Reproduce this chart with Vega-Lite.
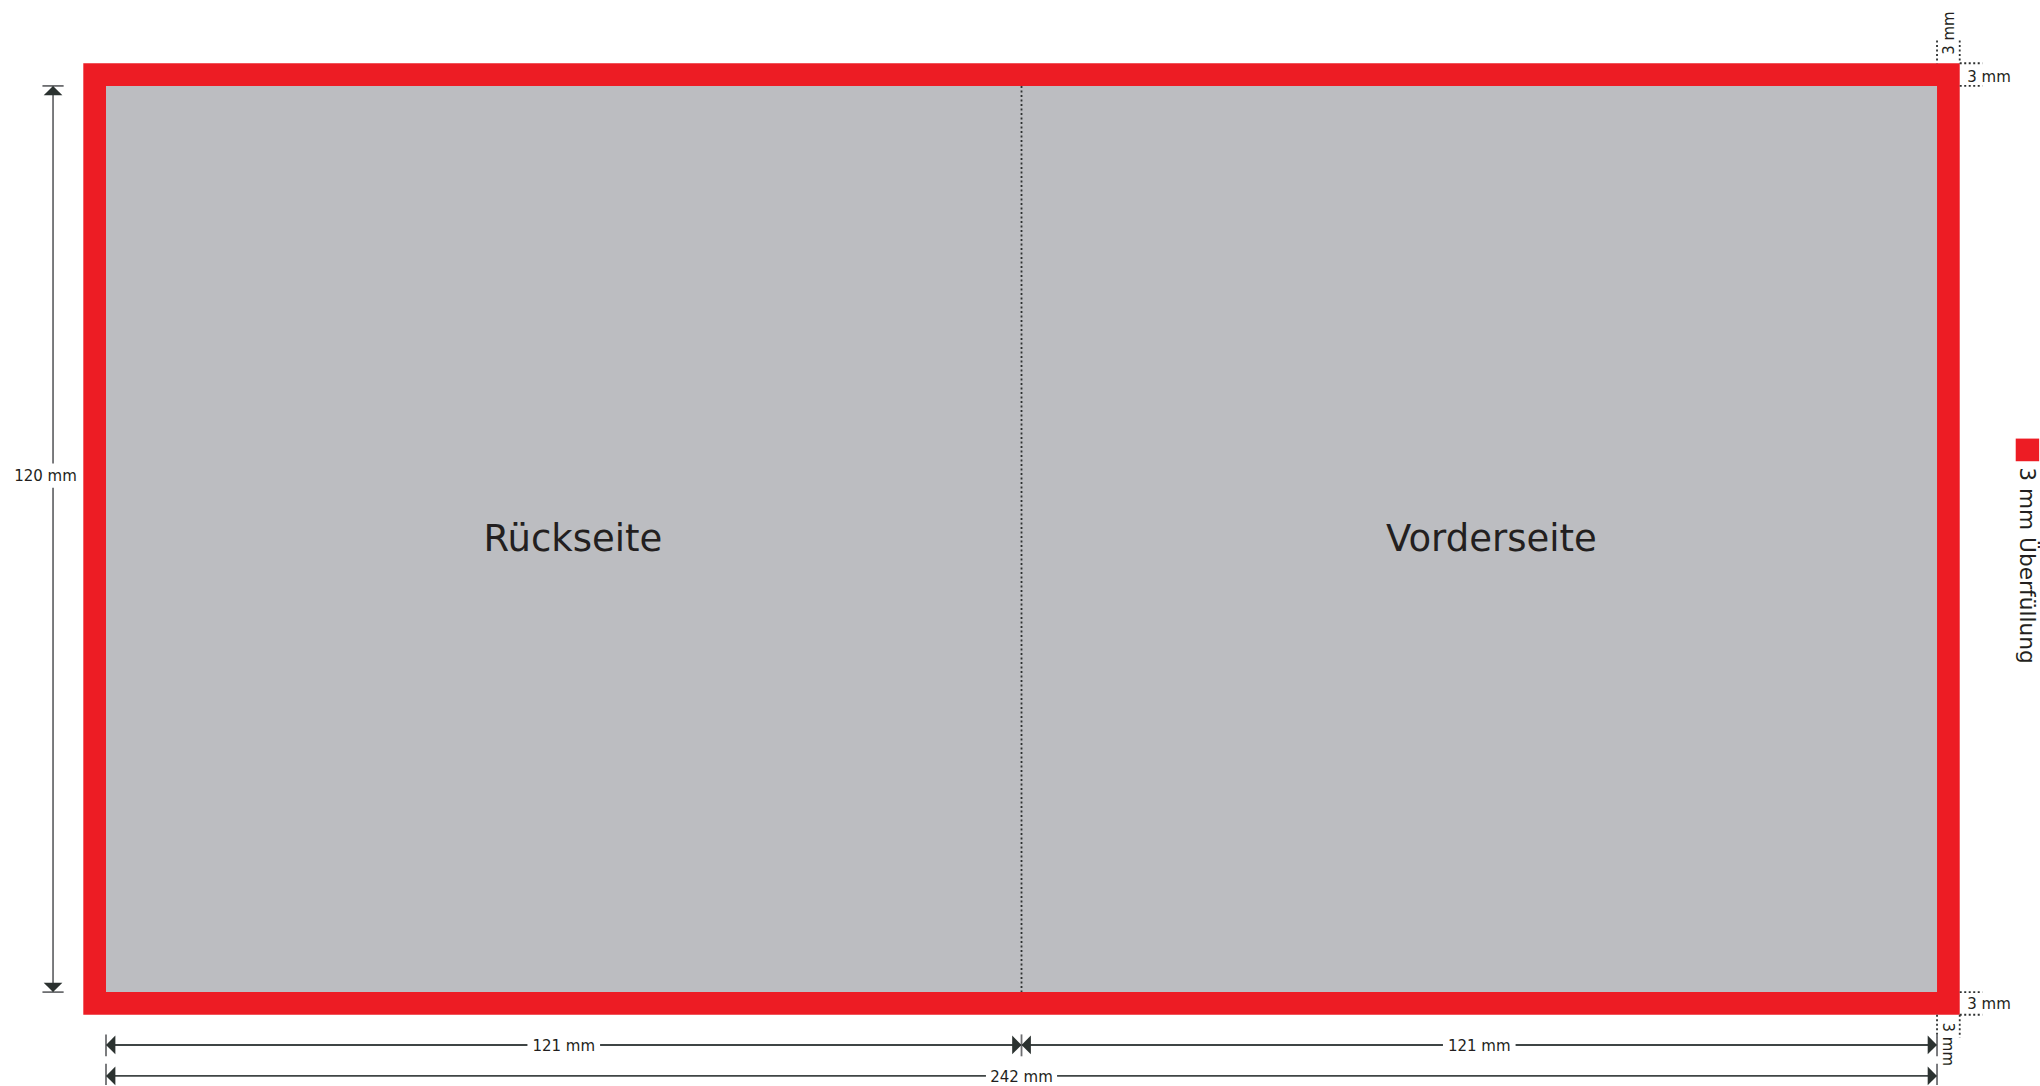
{
  "$schema": "https://vega.github.io/schema/vega-lite/v6.json",
  "autosize": {"type": "fit", "contains": "padding"},
  "width": 2040,
  "height": 1086,
  "padding": 0,
  "background": "white",
  "config": {"view": {"stroke": null}, "font": "DejaVu Sans"},
  "resolve": {"scale": {"color": "independent", "shape": "independent"}},
  "datasets": {
    "rects": [
      {"part": "bleed", "x": -3, "x2": 245, "y": -3, "y2": 123},
      {"part": "trim", "x": 0, "x2": 242, "y": 0, "y2": 120},
      {"part": "legend", "x": 252.4, "x2": 255.5, "y": 46.7, "y2": 49.7}
    ],
    "lines": [
      {"kind": "v", "x": -7, "x2": -7, "y": 0, "y2": 50.0},
      {"kind": "v", "x": -7, "x2": -7, "y": 53.2, "y2": 120},
      {"kind": "bar", "x": -8.4, "x2": -5.6, "y": 0, "y2": 0},
      {"kind": "bar", "x": -8.4, "x2": -5.6, "y": 120, "y2": 120},
      {"kind": "h", "x": 0, "x2": 55.7, "y": 127, "y2": 127},
      {"kind": "h", "x": 65.3, "x2": 121, "y": 127, "y2": 127},
      {"kind": "h", "x": 121, "x2": 176.7, "y": 127, "y2": 127},
      {"kind": "h", "x": 186.3, "x2": 242, "y": 127, "y2": 127},
      {"kind": "bar", "x": 0, "x2": 0, "y": 125.6, "y2": 128.5},
      {"kind": "bar", "x": 121, "x2": 121, "y": 125.6, "y2": 128.5},
      {"kind": "bar", "x": 242, "x2": 242, "y": 125.6, "y2": 128.5},
      {"kind": "h", "x": 0, "x2": 116.3, "y": 131.1, "y2": 131.1},
      {"kind": "h", "x": 125.7, "x2": 242, "y": 131.1, "y2": 131.1},
      {"kind": "bar", "x": 0, "x2": 0, "y": 129.5, "y2": 132.3},
      {"kind": "bar", "x": 242, "x2": 242, "y": 129.5, "y2": 132.3}
    ],
    "dotted": [
      {"kind": "fold", "x": 121, "x2": 121, "y": 0, "y2": 120},
      {"kind": "guide", "x": 242, "x2": 242, "y": -6, "y2": -3},
      {"kind": "guide", "x": 245, "x2": 245, "y": -6, "y2": -3},
      {"kind": "guide", "x": 245, "x2": 248, "y": -3, "y2": -3},
      {"kind": "guide", "x": 245, "x2": 248, "y": 0, "y2": 0},
      {"kind": "guide", "x": 245, "x2": 248, "y": 120, "y2": 120},
      {"kind": "guide", "x": 245, "x2": 248, "y": 123, "y2": 123},
      {"kind": "guide", "x": 242, "x2": 242, "y": 123, "y2": 126},
      {"kind": "guide", "x": 245, "x2": 245, "y": 123, "y2": 126}
    ],
    "arrows": [
      {"dir": "up", "x": -7, "y": 0},
      {"dir": "down", "x": -7, "y": 120},
      {"dir": "left", "x": 0, "y": 127},
      {"dir": "right", "x": 121, "y": 127},
      {"dir": "left", "x": 121, "y": 127},
      {"dir": "right", "x": 242, "y": 127},
      {"dir": "left", "x": 0, "y": 131.1},
      {"dir": "right", "x": 242, "y": 131.1}
    ],
    "texts": [
      {"role": "main", "label": "Rückseite", "x": 61.7, "y": 61.6},
      {"role": "main", "label": "Vorderseite", "x": 183.1, "y": 61.6},
      {"role": "dim", "label": "120 mm", "x": -8, "y": 51.7},
      {"role": "dim", "label": "121 mm", "x": 60.5, "y": 127.1},
      {"role": "dim", "label": "121 mm", "x": 181.5, "y": 127.1},
      {"role": "dim", "label": "242 mm", "x": 121, "y": 131.2},
      {"role": "bleedh", "label": "3 mm", "x": 246, "y": -1.2},
      {"role": "bleedh", "label": "3 mm", "x": 246, "y": 121.6},
      {"role": "up", "label": "3 mm", "x": 243.6, "y": -7.0},
      {"role": "down", "label": "3 mm", "x": 243.4, "y": 126.9},
      {"role": "legend", "label": "3 mm Überfüllung", "x": 253.9, "y": 50.5}
    ]
  },
  "encoding": {
    "x": {"field": "x", "type": "quantitative", "scale": {"domain": [-14.01, 255.61], "nice": false, "zero": false}, "axis": null},
    "y": {"field": "y", "type": "quantitative", "scale": {"domain": [-11.378, 132.3], "nice": false, "zero": false, "reverse": true}, "axis": null}
  },
  "layer": [
    {
      "data": {"name": "rects"},
      "mark": {"type": "rect", "strokeWidth": 0},
      "encoding": {
        "x2": {"field": "x2"},
        "y2": {"field": "y2"},
        "color": {"field": "part", "type": "nominal", "scale": {"domain": ["bleed", "trim", "legend"], "range": ["#ED1C24", "#BCBDC1", "#ED1C24"]}, "legend": null}
      }
    },
    {
      "data": {"name": "dotted"},
      "mark": {"type": "rule", "strokeDash": [2, 2.5], "strokeWidth": 1.8, "color": "#2E3131"},
      "encoding": {
        "x2": {"field": "x2"},
        "y2": {"field": "y2"}
      }
    },
    {
      "data": {"name": "lines"},
      "mark": {"type": "rule", "strokeWidth": 1.8},
      "encoding": {
        "x2": {"field": "x2"},
        "y2": {"field": "y2"},
        "color": {"field": "kind", "type": "nominal", "scale": {"domain": ["v", "h", "bar"], "range": ["#6D6E71", "#3F4545", "#6D6E71"]}, "legend": null}
      }
    },
    {
      "data": {"name": "arrows"},
      "mark": {"type": "point", "filled": true, "opacity": 1, "size": 350, "color": "#2B3230", "strokeWidth": 0},
      "encoding": {
        "shape": {"field": "dir", "type": "nominal", "scale": {"domain": ["up", "down", "left", "right"], "range": ["M0,0L-1,1L1,1Z", "M0,0L-1,-1L1,-1Z", "M0,0L1,-1L1,1Z", "M0,0L-1,-1L-1,1Z"]}, "legend": null}
      }
    },
    {
      "data": {"name": "texts"},
      "transform": [{"filter": "datum.role === 'main'"}],
      "mark": {"type": "text", "fontSize": 37, "align": "center", "baseline": "alphabetic", "color": "#231F20"},
      "encoding": {"text": {"field": "label"}}
    },
    {
      "data": {"name": "texts"},
      "transform": [{"filter": "datum.role === 'dim'"}],
      "mark": {"type": "text", "fontSize": 15, "align": "center", "baseline": "middle", "color": "#231F20"},
      "encoding": {"text": {"field": "label"}}
    },
    {
      "data": {"name": "texts"},
      "transform": [{"filter": "datum.role === 'bleedh'"}],
      "mark": {"type": "text", "fontSize": 15, "align": "left", "baseline": "middle", "color": "#231F20"},
      "encoding": {"text": {"field": "label"}}
    },
    {
      "data": {"name": "texts"},
      "transform": [{"filter": "datum.role === 'up'"}],
      "mark": {"type": "text", "fontSize": 15, "align": "center", "baseline": "middle", "angle": 270, "color": "#231F20"},
      "encoding": {"text": {"field": "label"}}
    },
    {
      "data": {"name": "texts"},
      "transform": [{"filter": "datum.role === 'down'"}],
      "mark": {"type": "text", "fontSize": 15, "align": "center", "baseline": "middle", "angle": 90, "color": "#231F20"},
      "encoding": {"text": {"field": "label"}}
    },
    {
      "data": {"name": "texts"},
      "transform": [{"filter": "datum.role === 'legend'"}],
      "mark": {"type": "text", "fontSize": 21.7, "align": "left", "baseline": "middle", "angle": 90, "color": "#231F20"},
      "encoding": {"text": {"field": "label"}}
    }
  ]
}
